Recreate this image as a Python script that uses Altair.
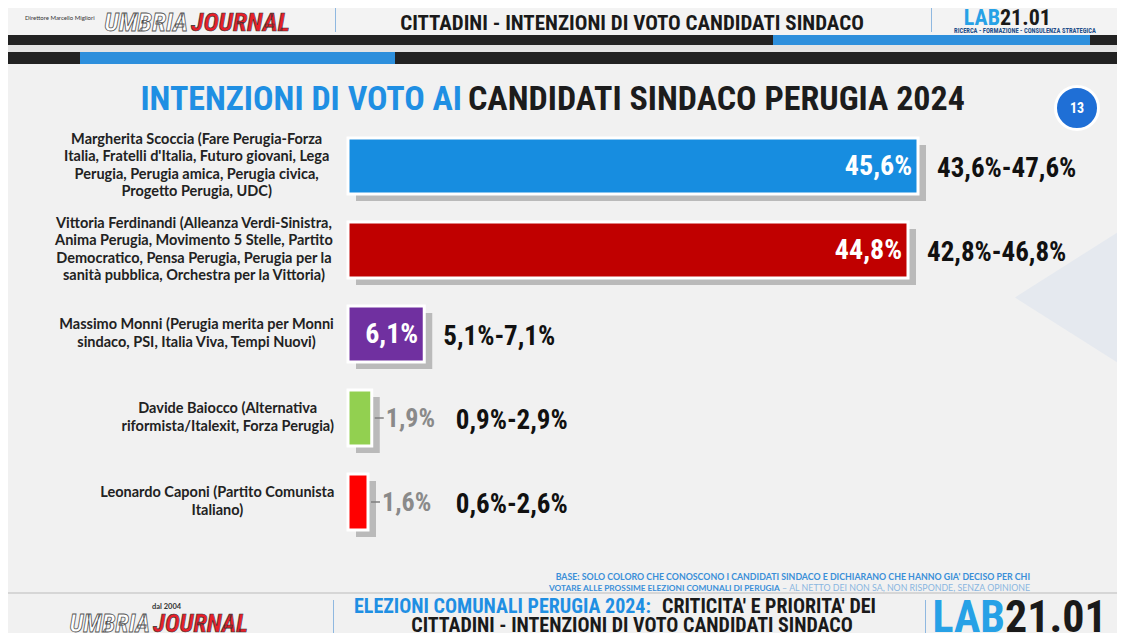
import altair as alt
import pandas as pd

# ---- data ----
candidates = [
    "Margherita Scoccia (Fare Perugia-Forza\nItalia, Fratelli d'Italia, Futuro giovani, Lega\nPerugia, Perugia amica, Perugia civica,\nProgetto Perugia, UDC)",
    "Vittoria Ferdinandi (Alleanza Verdi-Sinistra,\nAnima Perugia, Movimento 5 Stelle, Partito\nDemocratico, Pensa Perugia, Perugia per la\nsanità pubblica, Orchestra per la Vittoria)",
    "Massimo Monni (Perugia merita per Monni\nsindaco, PSI, Italia Viva, Tempi Nuovi)",
    "Davide Baiocco (Alternativa\nriformista/Italexit, Forza Perugia)",
    "Leonardo Caponi (Partito Comunista\nItaliano)",
]
values = [45.6, 44.8, 6.1, 1.9, 1.6]
value_labels = ["45,6%", "44,8%", "6,1%", "1,9%", "1,6%"]
ranges = ["43,6%-47,6%", "42,8%-46,8%", "5,1%-7,1%", "0,9%-2,9%", "0,6%-2,6%"]
colors = ["#178de0", "#c00000", "#7030a0", "#92d050", "#ff0000"]

LABEL_FS = 14.5
LINE_H = 17.5


def em_width(line):
    w = 0.0
    for ch in line:
        if ch in "il.,;:'|!":
            w += 0.25
        elif ch in "ftrj()/-I ":
            w += 0.32
        elif ch in "mw":
            w += 0.82
        elif ch in "MW":
            w += 0.88
        elif ch.isupper():
            w += 0.65
        elif ch.isdigit():
            w += 0.58
        else:
            w += 0.54
    return w


df = pd.DataFrame({
    "cand": candidates,
    "value": values,
    "vlabel": value_labels,
    "range": ranges,
    "color": colors,
    "halfw": [max(em_width(l) for l in c.split("\n")) * LABEL_FS / 2 for c in candidates],
    "nlines": [len(c.split("\n")) for c in candidates],
})

O = 8  # page margin offset
NARROW = "Roboto Condensed, Liberation Sans Narrow, DejaVu Sans Condensed, sans-serif"
one = alt.Data(values=[{"a": 1}])


def rect(x1, y1, x2, y2, color, **kw):
    return alt.Chart(one).mark_rect(color=color, **kw).encode(
        x=alt.value(x1 - O), x2=alt.value(x2 - O), y=alt.value(y1 - O), y2=alt.value(y2 - O))


def txt(s, x, y, **kw):
    kw.setdefault("baseline", "alphabetic")
    return alt.Chart(one).mark_text(text=s, **kw).encode(x=alt.value(x - O), y=alt.value(y - O))


xs = alt.Scale(domain=[0, 50], range=[348 - O, 348 - O + 625])
ys = alt.Scale(domain=candidates, range=[124 - O, 544 - O], paddingInner=0.3333, paddingOuter=0.1667)

base = alt.Chart(df)
Y = alt.Y("cand:N", scale=ys, sort=None,
          axis=alt.Axis(offset=-(346 - O), labels=False, title=None, grid=False,
                        domainColor="#a8a8a8", tickColor="#a8a8a8", tickSize=4,
                        tickBand="extent", domainWidth=1))

shadow = base.mark_bar(color="#8c8c8c", opacity=0.55, xOffset=8, yOffset=7).encode(
    x=alt.X("value:Q", scale=xs, axis=None), y=Y)
bars = base.mark_bar(stroke="white", strokeWidth=3).encode(
    x=alt.X("value:Q", scale=xs, axis=None), y=Y,
    color=alt.Color("color:N", scale=None))
inside = base.transform_filter("datum.value > 3").mark_text(
    align="right", baseline="middle", dx=-6, dy=1, color="white", font=NARROW,
    fontWeight="bold", fontSize=28).encode(
    x=alt.X("value:Q", scale=xs), y=Y, text="vlabel:N")
dash = base.transform_filter("datum.value <= 3").mark_rule(
    color="#7f7f7f", strokeWidth=1.5, xOffset=3, x2Offset=12).encode(
    x=alt.X("value:Q", scale=xs), x2="value:Q", y=Y)
outside = base.transform_filter("datum.value <= 3").mark_text(
    align="left", baseline="middle", dx=14, dy=1, color="#8a8a8a", font=NARROW,
    fontWeight="bold", fontSize=26).encode(
    x=alt.X("value:Q", scale=xs), y=Y, text="vlabel:N")
rng = base.transform_calculate(lx="datum.value < 3 ? 7.1 : datum.value").mark_text(
    align="left", baseline="middle", dx=19, dy=3, color="#111111", font=NARROW,
    fontWeight="bold", fontSize=27).encode(
    x=alt.X("lx:Q", scale=xs), y=Y, text="range:N")


def label_layer(n):
    return base.transform_filter(f"datum.nlines == {n}").transform_calculate(
        cx=f"{335 - O} - datum.halfw").mark_text(
        align="center", baseline="middle", lineBreak="\n", lineHeight=LINE_H,
        dy=-(n - 1) / 2 * LINE_H,
        font="Lato, Open Sans, sans-serif", fontWeight="bold", fontSize=LABEL_FS,
        color="#222222").encode(
        x=alt.X("cx:Q", scale=None), y=Y, text="cand:N")


labels = [label_layer(n) for n in sorted(set(df["nlines"]))]

BLUE = "#1f8fe3"
decor = [
    rect(5, 0, 1118, 35, "#f3f3f3"),
    rect(5, 35, 1118, 45, "#222222"),
    rect(773, 35, 1090, 45, "#2d8fdc"),
    rect(5, 52, 1118, 64, "#222222"),
    rect(80, 52, 395, 64, "#2d8fdc"),
    rect(5, 64, 1118, 592, "#f1f1f1"),
    # pale decorative triangle on the right edge
    alt.Chart(one).mark_point(shape="M -0.573 0 L 1 -1 L 1 1 Z", size=17161, filled=True,
                              color="#e5e9ef", opacity=1, strokeWidth=0).encode(
        x=alt.value(1052.5 - O), y=alt.value(297.5 - O)),
    rect(1118, 64, 1125, 592, "#e4e4e4"),
    rect(5, 592, 1118, 594, "#d6d6d6"),
    rect(5, 594, 1118, 641, "#f1f1f1"),
    rect(335, 8, 336, 32, "#8fb8e0"),
    rect(931, 8, 932, 32, "#8fb8e0"),
    rect(333, 600, 334, 641, "#8fb8e0"),
    rect(925, 600, 926, 641, "#8fb8e0"),
    # header
    txt("CITTADINI - INTENZIONI DI VOTO CANDIDATI SINDACO", 632, 30, font=NARROW, fontWeight="bold",
        fontSize=21, color="#1a1a1a", align="center"),
    txt("UMBRIA", 188, 31, font=NARROW, fontWeight="bold", fontStyle="italic", fontSize=26,
        color="white", stroke="#555555", strokeWidth=0.8, align="right"),
    txt("JOURNAL", 191, 31, font=NARROW, fontWeight="bold", fontStyle="italic", fontSize=26,
        color="#e8202a", stroke="#333333", strokeWidth=0.6, align="left"),
    txt("Direttore Marcello Migliori", 25, 20, font="Lato", fontSize=6, color="#333333", align="left"),
    txt("LAB", 1000, 25, font=NARROW, fontWeight="bold", fontSize=22, color="#27a1e6", align="right"),
    txt("21.01", 1000, 25, font=NARROW, fontWeight="bold", fontSize=22, color="#1a1a1a", align="left"),
    txt("RICERCA - FORMAZIONE - CONSULENZA STRATEGICA", 1025, 33, font=NARROW, fontWeight="bold",
        fontSize=6.5, color="#1e4e8a", align="center"),
    # title
    txt("INTENZIONI DI VOTO AI", 462, 110, font=NARROW, fontWeight="bold", fontSize=34,
        color=BLUE, align="right"),
    txt("CANDIDATI SINDACO PERUGIA 2024", 468, 110, font=NARROW, fontWeight="bold", fontSize=34,
        color="#1c1c1c", align="left"),
    alt.Chart(one).mark_circle(size=1850, color="#1f6fd6", opacity=1, stroke="white",
                               strokeWidth=3).encode(x=alt.value(1077 - O), y=alt.value(108 - O)),
    txt("13", 1077, 109, font=NARROW, fontWeight="bold", fontSize=14, color="white",
        align="center", baseline="middle"),
    # footnote
    txt("BASE: SOLO COLORO CHE CONOSCONO I CANDIDATI SINDACO E DICHIARANO CHE HANNO GIA' DECISO PER CHI",
        1030, 580, font="Lato", fontWeight="bold", fontSize=8.8, color="#3a8fd8", align="right"),
    txt("VOTARE ALLE PROSSIME ELEZIONI COMUNALI DI PERUGIA", 549, 591, font="Lato", fontWeight="bold",
        fontSize=8.3, color="#3a8fd8", align="left"),
    txt("– AL NETTO DEI NON SA, NON RISPONDE, SENZA OPINIONE", 1030, 591, font="Lato",
        fontSize=8.8, color="#8ab6e0", align="right"),
    # footer
    txt("dal 2004", 152, 609, font="Lato", fontWeight="bold", fontSize=7.5, color="#333333", align="left"),
    txt("UMBRIA", 150, 632, font=NARROW, fontWeight="bold", fontStyle="italic", fontSize=25,
        color="white", stroke="#555555", strokeWidth=0.8, align="right"),
    txt("JOURNAL", 153, 632, font=NARROW, fontWeight="bold", fontStyle="italic", fontSize=25,
        color="#e8202a", stroke="#333333", strokeWidth=0.6, align="left"),
    txt("ELEZIONI COMUNALI PERUGIA 2024:", 354, 613, font=NARROW, fontWeight="bold", fontSize=20,
        color=BLUE, align="left"),
    txt("CRITICITA' E PRIORITA' DEI", 662, 613, font=NARROW, fontWeight="bold", fontSize=20,
        color="#1a1a1a", align="left"),
    txt("CITTADINI - INTENZIONI DI VOTO CANDIDATI SINDACO", 632, 632, font=NARROW, fontWeight="bold",
        fontSize=20, color="#1a1a1a", align="center"),
    txt("LAB", 1005, 632, font=NARROW, fontWeight="bold", fontSize=44, color="#27a1e6", align="right"),
    txt("21.01", 1005, 632, font=NARROW, fontWeight="bold", fontSize=44, color="#1a1a1a", align="left"),
]

chart = alt.layer(*decor, shadow, bars, inside, dash, outside, rng, *labels).resolve_scale(
    x="independent"
).properties(
    width=1109, height=625, autosize=alt.AutoSizeParams(type="none"), padding=0,
    background="#e4e4e4",
).configure_view(stroke=None)

chart.save("out.html", embed_options={"renderer": "svg", "actions": False})
